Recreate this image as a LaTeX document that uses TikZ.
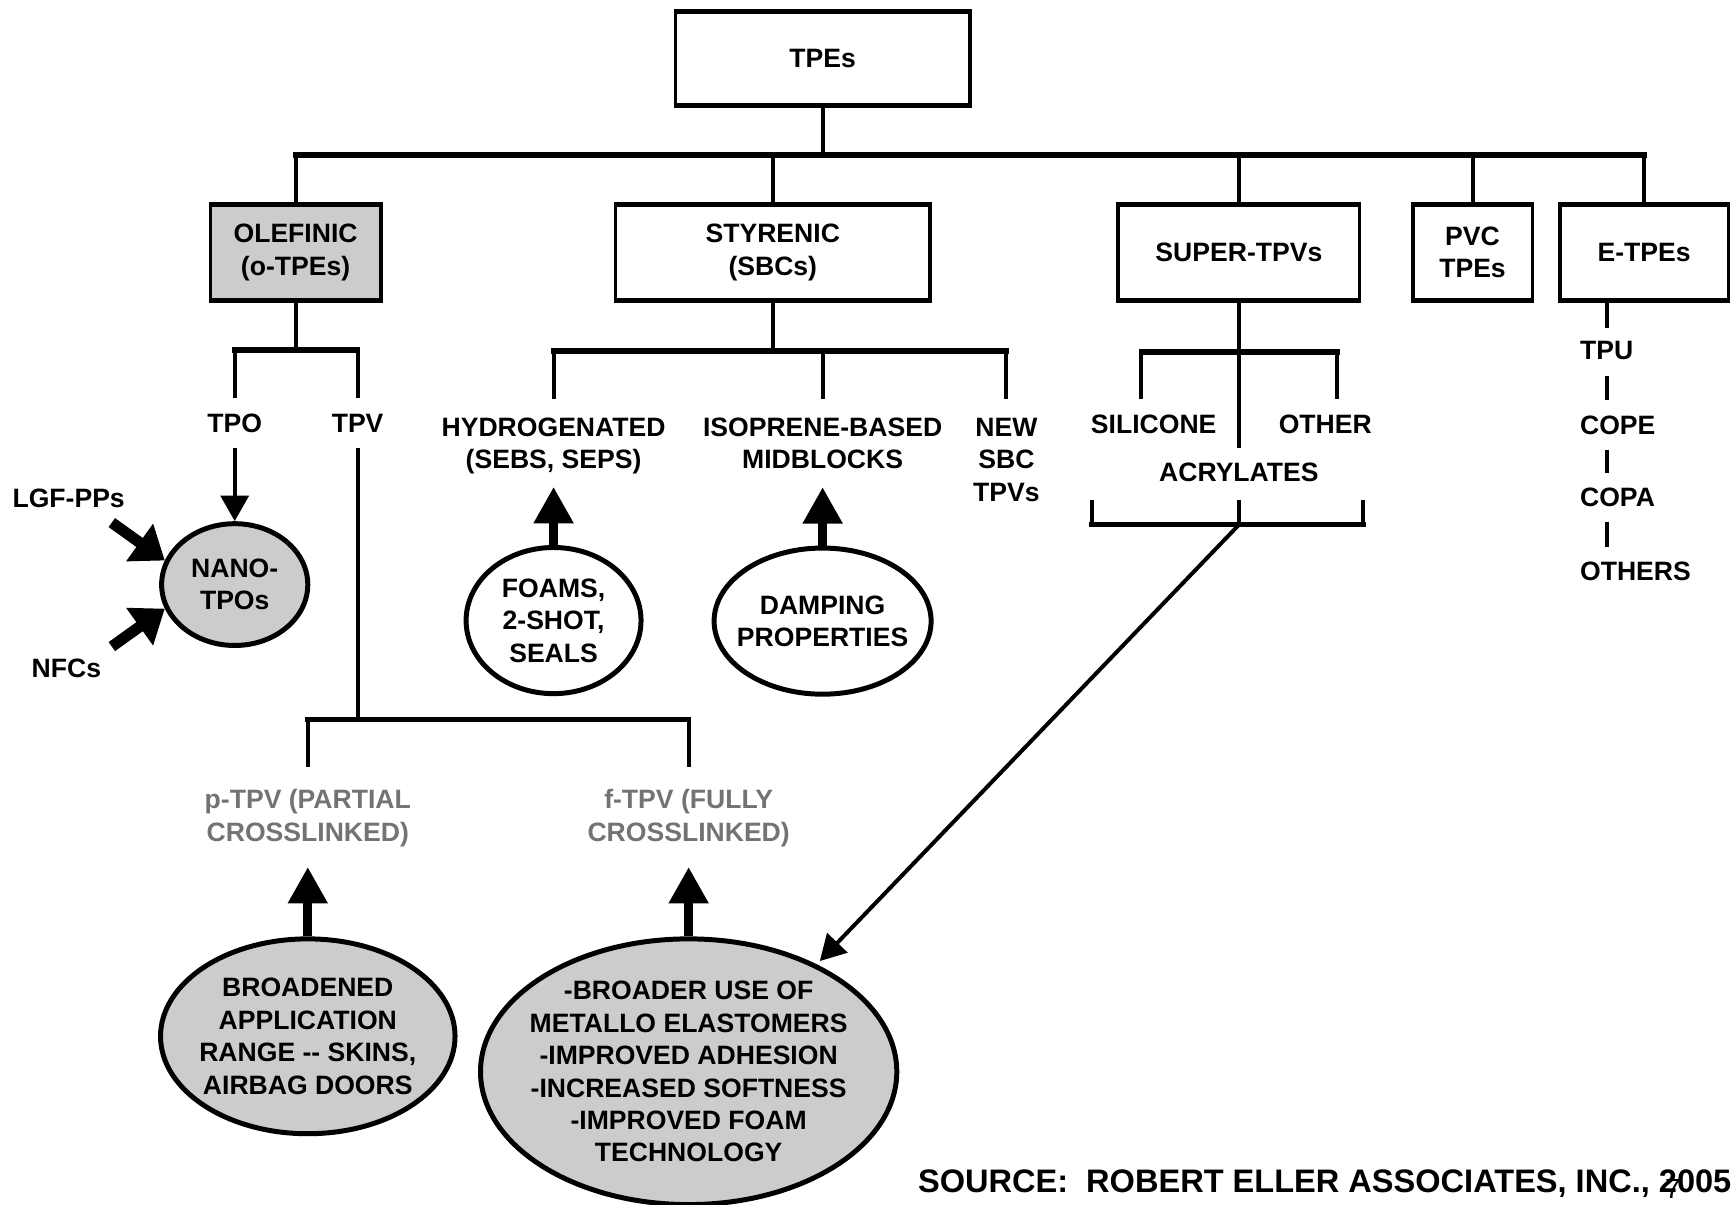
\documentclass[tikz,border=0pt]{standalone}
\usepackage{fontspec}
\setmainfont{Liberation Sans}
\usetikzlibrary{arrows.meta}
\usetikzlibrary{positioning,shapes.geometric}
\tikzset{
    catbox/.style={
        draw,
        rectangle,
        line width=3.2pt,
        inner sep=0pt,
        align=center,
        path picture={
            \draw[line width=6.5pt]
              (path picture bounding box.north west) -- (path picture bounding box.north east)
              (path picture bounding box.south west) -- (path picture bounding box.south east);
        }
    },
    oval/.style={
        draw,
        ellipse,
        line width=4.5pt,
        inner sep=0pt
    },
    txt/.style={inner sep=4pt, align=center},
    conn/.style={line width=3.6pt},
    bus/.style={line width=4.8pt, line cap=rect},
    thinarrow/.style={line width=3.6pt, -{Triangle[length=23pt, width=25pt]}},
    fatarrow/.style={line width=8.5pt, -{Triangle[length=33pt, width=34pt]}},
    pusharrow/.style={line width=10pt, -{Triangle[length=28pt, width=40pt]}}
}
\tikzset{
  every node/.style={font=\fontsize{24}{29.3}\selectfont\bfseries}
}

\begin{document}
\begin{tikzpicture}[x=1pt, y=-1pt]
  \useasboundingbox (0,0) rectangle (1568,1088);

  % Root of the tree
  \node[catbox, minimum width=266pt, minimum height=86.5pt] (tpes) at (743,52.75) {TPEs};
  \coordinate (topbus) at (743,140);

  % Main families
  \node[catbox, fill=gray!40, minimum width=154pt, minimum height=88pt] (olef) at (267,228) {OLEFINIC\\(o-TPEs)};
  \node[catbox, minimum width=284pt, minimum height=88pt] (styr) at (698,228) {STYRENIC\\(SBCs)};
  \node[catbox, minimum width=218pt, minimum height=88pt] (super) at (1119,228) {SUPER-TPVs};
  \node[catbox, minimum width=108pt, minimum height=88pt] (pvc) at (1330,228) {PVC\\TPEs};
  \node[catbox, minimum width=152pt, minimum height=88pt] (etpe) at (1485,228) {E-TPEs};

  \draw[conn] (tpes.south) -- (topbus);
  \draw[bus] (olef.north |- topbus) -- (etpe.north |- topbus);
  \foreach \fam in {olef, styr, super, pvc, etpe}
    \draw[conn] (\fam.north |- topbus) -- (\fam.north);

  % Olefinic branch
  \coordinate (olbus) at (267,316);
  \node[txt] (tpo) at (212,382) {TPO};
  \node[txt] (tpv) at (323,382) {TPV};
  \draw[conn] (olef.south) -- (olbus);
  \draw[bus] (tpo.north |- olbus) -- (tpv.north |- olbus);
  \draw[conn, shorten >=10pt] (tpo.north |- olbus) -- (tpo.north);
  \draw[conn, shorten >=10pt] (tpv.north |- olbus) -- (tpv.north);

  \node[oval, fill=gray!40, minimum width=132pt, minimum height=110pt] (nano) at (212,528) {};
  \node[txt] (nanotxt) at (nano) {NANO-\\TPOs};
  \draw[thinarrow, shorten <=10pt] (tpo.south) -- (nano.north);

  \node[txt] (lgf) at (62,450) {LGF-PPs};
  \node[txt] (nfc) at (60,604) {NFCs};
  \coordinate (lgftail) at (101,472);
  \coordinate (nfctail) at (101,584);
  \draw[pusharrow] (lgftail) -- (nano.161);
  \draw[pusharrow] (nfctail) -- (nano.199);

  % TPV split
  \coordinate (tpvbus) at (323,650);
  \node[txt, text=black!55] (ptpv) at (278,739) {p-TPV (PARTIAL\\CROSSLINKED)};
  \node[txt, text=black!55] (ftpv) at (622,739) {f-TPV (FULLY\\CROSSLINKED)};
  \draw[conn, shorten <=10pt] (tpv.south) -- (tpvbus);
  \draw[bus] (ptpv.north |- tpvbus) -- (ftpv.north |- tpvbus);
  \draw[conn, shorten >=16.5pt] (ptpv.north |- tpvbus) -- (ptpv.north);
  \draw[conn, shorten >=16.5pt] (ftpv.north |- tpvbus) -- (ftpv.north);

  \node[oval, fill=gray!40, minimum width=266pt, minimum height=176pt] (broad) at (278,936) {};
  \node[txt] (broadtxt) at (broad) {BROADENED\\APPLICATION\\RANGE -{}- SKINS,\\AIRBAG DOORS};
  \node[oval, fill=gray!40, minimum width=376pt, minimum height=240pt] (fbig) at (622,968) {};
  \node[txt] (fbigtxt) at (fbig) {-BROADER USE OF\\METALLO ELASTOMERS\\-IMPROVED ADHESION\\-INCREASED SOFTNESS\\-IMPROVED FOAM\\TECHNOLOGY};
  \draw[fatarrow, shorten >=14pt] (broad.north) -- (ptpv.south);
  \draw[fatarrow, shorten >=14pt] (fbig.north) -- (ftpv.south);

  % Styrenic branch
  \coordinate (stbus) at (698,317);
  \node[txt] (hydro) at (500,403) {HYDROGENATED\\(SEBS, SEPS)};
  \node[txt] (isop) at (743,400.6) {ISOPRENE-BASED\\MIDBLOCKS};
  \node[txt] (newsbc) at (909,415.3) {NEW\\SBC\\TPVs};
  \draw[conn] (styr.south) -- (stbus);
  \draw[bus] (hydro.north |- stbus) -- (newsbc.north |- stbus);
  \foreach \leaf in {hydro, isop, newsbc}
    \draw[conn, shorten >=13pt] (\leaf.north |- stbus) -- (\leaf.north);

  \node[oval, minimum width=158pt, minimum height=132pt] (foam) at (500,560.5) {};
  \node[txt] (foamtxt) at (foam) {FOAMS,\\2-SHOT,\\SEALS};
  \node[oval, minimum width=196pt, minimum height=132pt] (damp) at (743,561) {};
  \node[txt] (damptxt) at (damp) {DAMPING\\PROPERTIES};
  \draw[fatarrow, shorten >=7pt] (foam.north) -- (hydro.south);
  \draw[fatarrow, shorten >=12pt] (damp.north) -- (isop.south);

  % Super-TPVs branch
  \coordinate (spL) at (1031,318);
  \coordinate (spR) at (1208,318);
  \node[txt] (silic) at (1042,383) {SILICONE};
  \node[txt] (other) at (1197,383) {OTHER};
  \node[txt] (acryl) at (1119,427) {ACRYLATES};
  \draw[conn, shorten >=9.5pt] (super.south) -- (acryl.north);
  \draw[bus] (spL) -- (spR);
  \draw[conn, shorten >=9.5pt] (spL) -- (spL |- silic.north);
  \draw[conn, shorten >=9.5pt] (spR) -- (spR |- other.north);

  \coordinate (brL) at (986,452);
  \coordinate (brR) at (1231,452);
  \coordinate (brM) at (1119,474);
  \draw[conn] (brL) -- (brL |- brM);
  \draw[conn] (brR) -- (brR |- brM);
  \draw[conn, shorten <=12pt] (acryl.south) -- (brM);
  \draw[bus] (brL |- brM) -- (brR |- brM);
  \draw[thinarrow, shorten >=4pt] (brM) -- (fbig.40);

  % E-TPEs list
  \node[txt, anchor=west] (tpu) at (1423,317) {TPU};
  \node[txt, anchor=west] (cope) at (1423,384) {COPE};
  \node[txt, anchor=west] (copa) at (1423,449) {COPA};
  \node[txt, anchor=west] (others) at (1423,516) {OTHERS};
  \draw[conn, shorten >=8pt] (etpe.south -| tpu) -- (tpu.north);
  \draw[conn, shorten <=10pt, shorten >=10pt] (tpu.south) -- (tpu.south |- cope.north);
  \draw[conn, shorten <=9.5pt, shorten >=9pt] (tpu.south |- cope.south) -- (tpu.south |- copa.north);
  \draw[conn, shorten <=9.5pt, shorten >=9pt] (tpu.south |- copa.south) -- (tpu.south |- others.north);

  % Source line
  \node[txt, anchor=east, font=\fontsize{29.4}{34}\selectfont\bfseries] (src) at (1568,1069) {SOURCE:~ ROBERT ELLER ASSOCIATES, INC., 2005};
  \node[inner sep=0pt, font=\fontsize{25}{30}\selectfont] (pgno) at (1511,1074) {7};
\end{tikzpicture}
\end{document}
